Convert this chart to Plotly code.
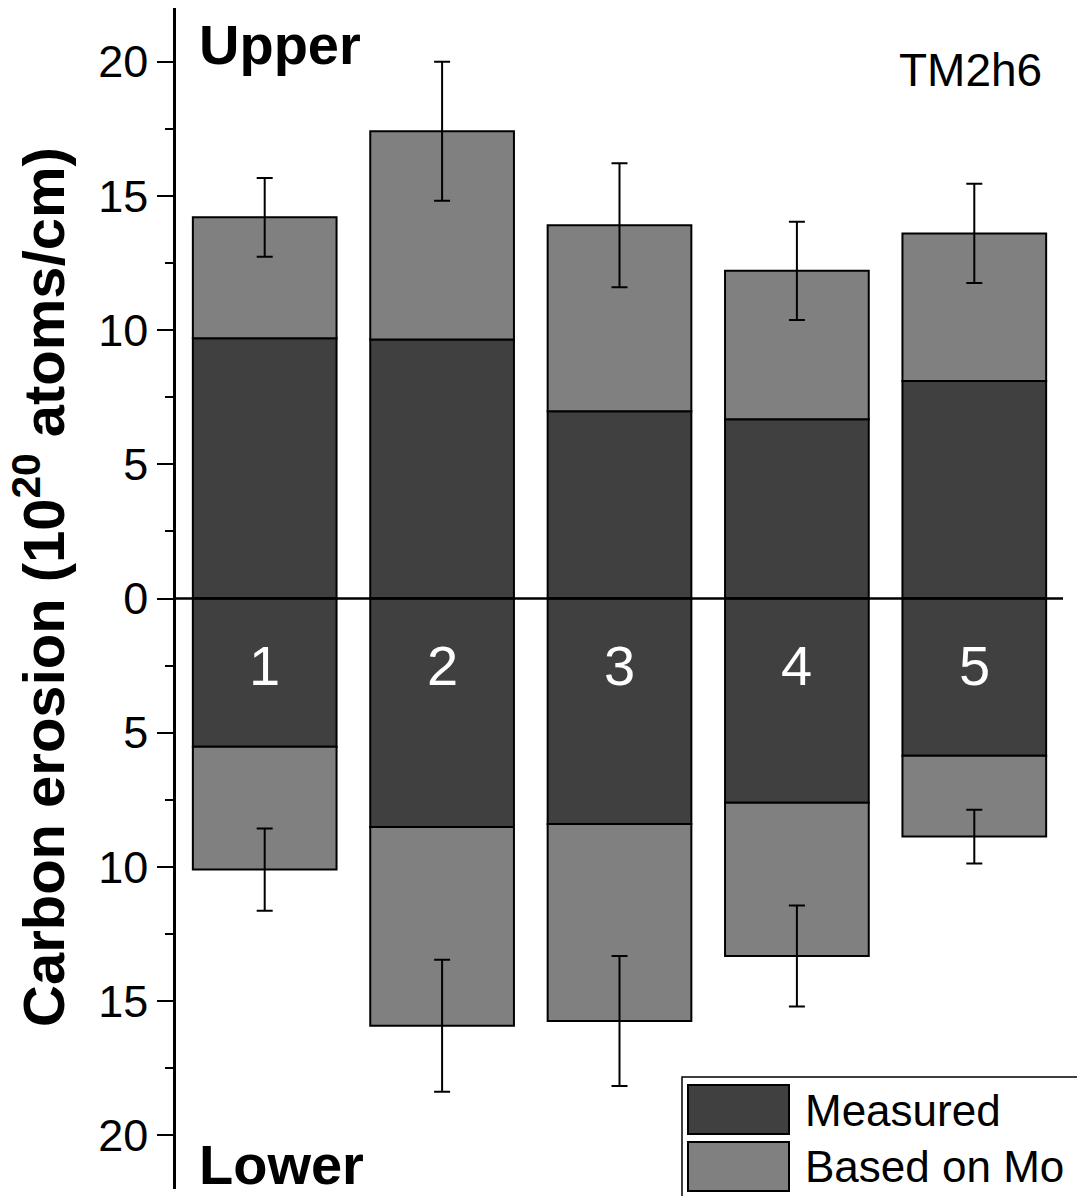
import plotly.graph_objects as go

categories = [1, 2, 3, 4, 5]
upper_measured = [9.7, 9.65, 6.98, 6.68, 8.1]
upper_total = [14.2, 17.41, 13.91, 12.21, 13.6]
upper_err = [1.47, 2.59, 2.31, 1.83, 1.85]
lower_measured = [5.52, 8.51, 8.4, 7.61, 5.86]
lower_total = [10.1, 15.92, 15.74, 13.32, 8.87]
lower_err = [1.53, 2.46, 2.42, 1.88, 1.0]
tick_vals = [-20, -15, -10, -5, 0, 5, 10, 15, 20]
tick_text = ["20", "15", "10", "5", "0", "5", "10", "15", "20"]

DARK = "#404040"
LIGHT = "#808080"
FONT = "Arial, Liberation Sans, sans-serif"
BW = 0.81

fig = go.Figure()
line = dict(color="black", width=2)

# upper bars
fig.add_trace(go.Bar(x=categories, y=upper_measured, base=[0]*5, width=BW,
                     marker=dict(color=DARK, line=line), showlegend=False))
fig.add_trace(go.Bar(x=categories, y=[t - m for t, m in zip(upper_total, upper_measured)],
                     base=upper_measured, width=BW,
                     marker=dict(color=LIGHT, line=line), showlegend=False))
# lower bars
fig.add_trace(go.Bar(x=categories, y=[-m for m in lower_measured], base=[0]*5, width=BW,
                     marker=dict(color=DARK, line=line), showlegend=False))
fig.add_trace(go.Bar(x=categories, y=[-(t - m) for t, m in zip(lower_total, lower_measured)],
                     base=[-m for m in lower_measured], width=BW,
                     marker=dict(color=LIGHT, line=line), showlegend=False))

# error bars
errstyle = dict(type="data", color="black", thickness=2, width=8)
fig.add_trace(go.Scatter(x=categories, y=upper_total, mode="markers",
                         marker=dict(size=1, color="rgba(0,0,0,0)"),
                         error_y=dict(array=upper_err, **errstyle), showlegend=False))
fig.add_trace(go.Scatter(x=categories, y=[-t for t in lower_total], mode="markers",
                         marker=dict(size=1, color="rgba(0,0,0,0)"),
                         error_y=dict(array=lower_err, **errstyle), showlegend=False))

# zero line
fig.add_shape(type="line", xref="paper", yref="y", x0=0, x1=1, y0=0, y1=0,
              line=dict(color="black", width=2.5), layer="above")

# numbers in bars
for c in categories:
    fig.add_annotation(x=c, y=-2.5, xref="x", yref="y", text=str(c), showarrow=False,
                       font=dict(family=FONT, size=56, color="white"))

W, H = 1077, 1196
L, R, T, B = 176, 14, 8, 7
PW, PH = W - L - R, H - T - B


def px(xp):
    return (xp - L) / PW


def py(yp):
    return (H - B - yp) / PH


fig.add_annotation(x=px(197), y=py(44), xref="paper", yref="paper", text="<b>Upper</b>",
                   showarrow=False, xanchor="left", yanchor="middle",
                   font=dict(family=FONT, size=56, color="black"))
fig.add_annotation(x=px(197), y=py(1164), xref="paper", yref="paper", text="<b>Lower</b>",
                   showarrow=False, xanchor="left", yanchor="middle",
                   font=dict(family=FONT, size=56, color="black"))
fig.add_annotation(x=px(1044), y=py(70), xref="paper", yref="paper", text="TM2h6",
                   showarrow=False, xanchor="right", yanchor="middle",
                   font=dict(family=FONT, size=46, color="black"))
fig.add_annotation(x=px(39), y=py(587), xref="paper", yref="paper",
                   text="<b>Carbon erosion (10<sup>20</sup> atoms/cm)</b>",
                   showarrow=False, textangle=-90, xanchor="center", yanchor="middle",
                   font=dict(family=FONT, size=58, color="black"))

# legend (drawn manually)
fig.add_shape(type="rect", xref="paper", yref="paper", x0=px(682), x1=px(1090),
              y0=py(1205), y1=py(1077), line=dict(color="black", width=1.5),
              fillcolor="white", layer="above")
fig.add_shape(type="rect", xref="paper", yref="paper", x0=px(688), x1=px(789),
              y0=py(1134), y1=py(1085), line=dict(color="black", width=2),
              fillcolor=DARK, layer="above")
fig.add_shape(type="rect", xref="paper", yref="paper", x0=px(688), x1=px(789),
              y0=py(1191), y1=py(1142), line=dict(color="black", width=2),
              fillcolor=LIGHT, layer="above")
fig.add_annotation(x=px(803), y=py(1110), xref="paper", yref="paper", text="Measured",
                   showarrow=False, xanchor="left", yanchor="middle",
                   font=dict(family=FONT, size=44, color="black"))
fig.add_annotation(x=px(803), y=py(1166), xref="paper", yref="paper", text="Based on Mo",
                   showarrow=False, xanchor="left", yanchor="middle",
                   font=dict(family=FONT, size=44, color="black"))

fig.update_layout(
    width=W, height=H, barmode="overlay",
    margin=dict(l=L, r=R, t=T, b=B, autoexpand=False),
    paper_bgcolor="white", plot_bgcolor="white",
    xaxis=dict(range=[0.5, 5.5], visible=False),
    yaxis=dict(range=[-22, 22], tickmode="array", tickvals=tick_vals, ticktext=tick_text,
               ticks="outside", ticklen=16, tickwidth=2, tickcolor="black",
               showline=True, linecolor="black", linewidth=2.5, showgrid=False,
               zeroline=False, ticklabelstandoff=0,
               tickfont=dict(family=FONT, size=45, color="black"),
               minor=dict(tickmode="linear", tick0=0, dtick=2.5, ticks="outside",
                          ticklen=8, tickwidth=2, tickcolor="black", showgrid=False)),
    font=dict(family=FONT),
)

fig.write_html("out.html", config={"displayModeBar": False},
               post_script="document.body.style.margin='0';document.body.style.overflow='hidden';")
